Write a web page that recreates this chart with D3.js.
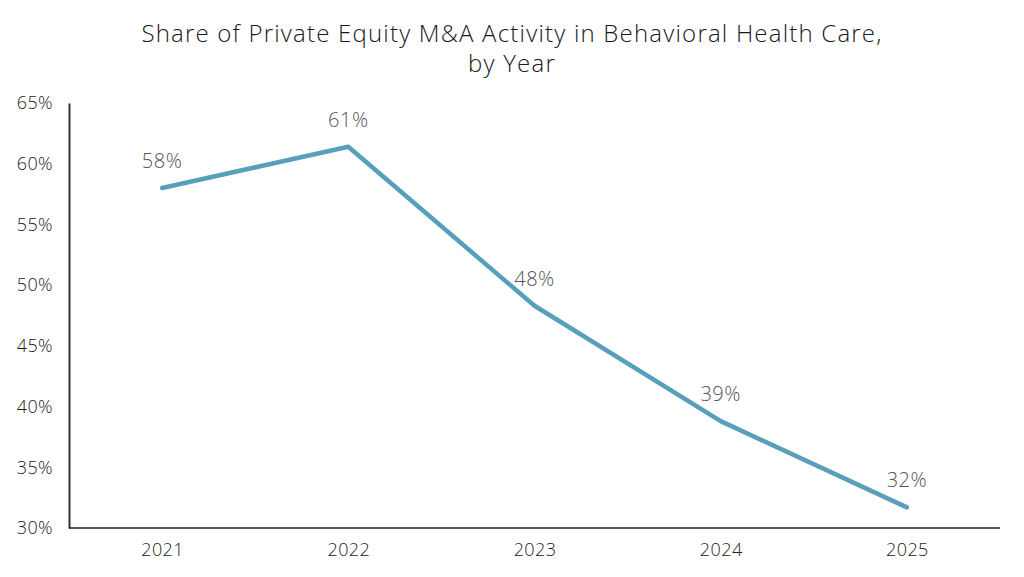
<!DOCTYPE html>
<html><head><meta charset="utf-8">
<script src="https://cdn.jsdelivr.net/npm/d3@7"></script>
<style>body{margin:0;background:#fff;} svg{display:block;}</style>
</head><body>
<svg id="c" width="1024" height="577"></svg>
<script>
const titleLines = ["Share of Private Equity M&A Activity in Behavioral Health Care,", "by Year"];
const years = ["2021", "2022", "2023", "2024", "2025"];
const shares = [58.0, 61.4, 48.3, 38.8, 31.7];
const shareLabels = ["58%", "61%", "48%", "39%", "32%"];
const yTicks = [30, 35, 40, 45, 50, 55, 60, 65];

const svg = d3.select("#c");
const font = "'Open Sans', 'Noto Sans', sans-serif";
const m = {l: 69, r: 1000, t: 103, b: 528};
const x = d3.scalePoint().domain(years).range([m.l, m.r]).padding(0.5);
const y = d3.scaleLinear().domain([30, 65]).range([m.b, m.t]);

svg.append("text").attr("x", 512).attr("y", 41.5).attr("text-anchor", "middle")
  .attr("font-family", font).attr("font-size", 24).attr("font-weight", 300).attr("fill", "#1a1a1a")
  .attr("letter-spacing", 1.2)
  .selectAll("tspan").data(titleLines).join("tspan")
  .attr("x", 512).attr("dy", (d, i) => i ? 30.5 : 0).text(d => d);

const yAxis = svg.append("g").attr("transform", `translate(${m.l},0)`)
  .call(d3.axisLeft(y).tickValues(yTicks).tickSize(0).tickPadding(16).tickFormat(d => d + "%"));
yAxis.select(".domain").attr("stroke", "#333").attr("stroke-width", 2);
yAxis.selectAll("text").attr("font-family", font).attr("font-size", 18).attr("font-weight", 300)
  .attr("letter-spacing", 0.4).attr("fill", "#222");

const xAxis = svg.append("g").attr("transform", `translate(0,${m.b})`)
  .call(d3.axisBottom(x).tickSize(0).tickPadding(15));
xAxis.select(".domain").attr("stroke", "#222").attr("stroke-width", 1.5).attr("d", `M${m.l},0H${m.r}`);
xAxis.selectAll("text").attr("font-family", font).attr("font-size", 18).attr("font-weight", 300)
  .attr("letter-spacing", 0.4).attr("fill", "#222");

const pts = years.map((yr, i) => [x(yr), y(shares[i])]);
svg.append("path").attr("d", d3.line()(pts)).attr("fill", "none")
  .attr("stroke", "#589fbb").attr("stroke-width", 4.5).attr("stroke-linecap", "round").attr("stroke-linejoin", "round");

svg.selectAll(".lbl").data(years).join("text").attr("class", "lbl")
  .attr("x", d => x(d)).attr("y", (d, i) => y(shares[i]) - 20)
  .attr("text-anchor", "middle").attr("font-family", font).attr("font-size", 20).attr("font-weight", 300)
  .attr("letter-spacing", 0.5).attr("fill", "#555")
  .text((d, i) => shareLabels[i]);
</script>
</body></html>
